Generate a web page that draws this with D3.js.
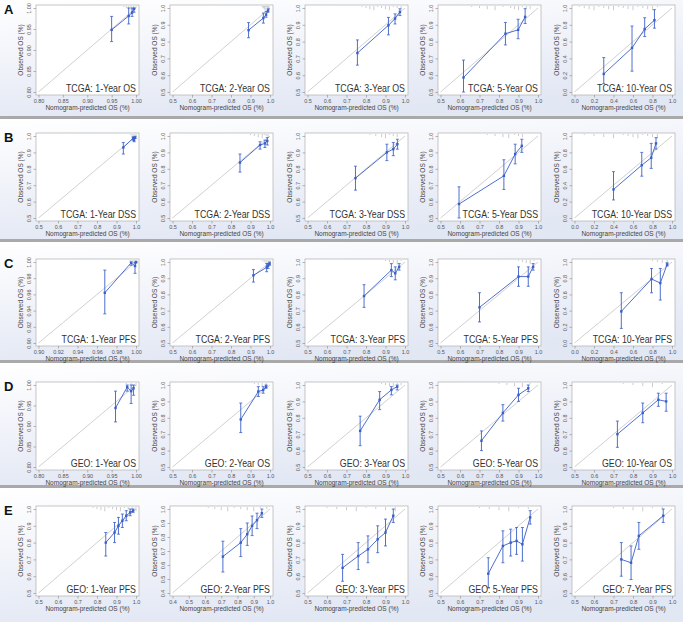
<!DOCTYPE html>
<html><head><meta charset="utf-8">
<script src="https://cdn.jsdelivr.net/npm/d3@7"></script>
<style>body{margin:0;background:#fff}svg{display:block;font-family:Arial,"Liberation Sans",sans-serif}</style>
</head><body><svg id="c" width="683" height="622"></svg>
<script>
const rowLabels = ["A","B","C","D","E"];
const titles = [
 "TCGA: 1-Year OS","TCGA: 2-Year OS","TCGA: 3-Year OS","TCGA: 5-Year OS","TCGA: 10-Year OS",
 "TCGA: 1-Year DSS","TCGA: 2-Year DSS","TCGA: 3-Year DSS","TCGA: 5-Year DSS","TCGA: 10-Year DSS",
 "TCGA: 1-Year PFS","TCGA: 2-Year PFS","TCGA: 3-Year PFS","TCGA: 5-Year PFS","TCGA: 10-Year PFS",
 "GEO: 1-Year OS","GEO: 2-Year OS","GEO: 3-Year OS","GEO: 5-Year OS","GEO: 10-Year OS",
 "GEO: 1-Year PFS","GEO: 2-Year PFS","GEO: 3-Year PFS","GEO: 5-Year PFS","GEO: 7-Year PFS"];
const ticksA = ["0.80","0.85","0.90","0.95","1.00"];
const ticksB = ["0.5","0.6","0.7","0.8","0.9","1.0"];
const ticksC = ["0.0","0.2","0.4","0.6","0.8","1.0"];
const ticksD = ["0.90","0.92","0.94","0.96","0.98","1.00"];
const ticksE = ["0.4","0.5","0.6","0.7","0.8","0.9","1.0"];
const panelTicks = [
 ticksA,ticksB,ticksB,ticksB,ticksC,
 ticksB,ticksB,ticksB,ticksB,ticksC,
 ticksD,ticksB,ticksB,ticksB,ticksC,
 ticksA,ticksB,ticksB,ticksB,ticksB,
 ticksB,ticksE,ticksB,ticksB,ticksB];
const pred = [
 [0.950,0.985,0.992,0.996],[0.890,0.966,0.980,0.990],[0.756,0.915,0.949,0.974],[0.618,0.833,0.898,0.934],[0.30,0.59,0.72,0.82],
 [0.935,0.985,0.990,0.995],[0.846,0.949,0.974,0.986],[0.746,0.907,0.940,0.961],[0.595,0.825,0.883,0.917],[0.40,0.69,0.787,0.836],
 [0.968,0.995,0.999,1.000],[0.915,0.983,0.990,0.998],[0.79,0.93,0.95,0.97],[0.70,0.90,0.95,0.975],[0.48,0.79,0.88,0.95],
 [0.958,0.982,0.990,0.995],[0.85,0.94,0.965,0.98],[0.77,0.87,0.93,0.96],[0.71,0.82,0.90,0.95],[0.72,0.85,0.93,0.97],
 [0.845,0.89,0.91,0.93,0.95,0.97,0.985],[0.71,0.82,0.86,0.89,0.92,0.95],[0.68,0.76,0.81,0.86,0.90,0.94],[0.745,0.82,0.86,0.89,0.92,0.96],[0.74,0.79,0.83,0.955]];
const obs = [
 [0.948,0.981,0.989,0.998],[0.868,0.940,0.960,0.985],[0.732,0.897,0.937,0.976],[0.586,0.847,0.870,0.947],[0.215,0.525,0.75,0.855],
 [0.930,0.986,0.975,0.990],[0.838,0.945,0.955,0.970],[0.743,0.900,0.920,0.950],[0.585,0.757,0.890,0.940],[0.348,0.644,0.735,0.910],
 [0.962,0.999,0.995,1.000],[0.918,0.967,0.977,0.990],[0.79,0.95,0.93,0.97],[0.72,0.91,0.91,0.97],[0.39,0.79,0.74,0.97],
 [0.944,0.995,0.985,0.992],[0.79,0.96,0.97,0.99],[0.72,0.91,0.97,0.99],[0.66,0.83,0.94,0.98],[0.70,0.83,0.91,0.90],
 [0.80,0.86,0.90,0.93,0.96,0.98,0.99],[0.66,0.76,0.82,0.88,0.92,0.97],[0.65,0.72,0.76,0.82,0.86,0.96],[0.615,0.78,0.80,0.81,0.79,0.95],[0.70,0.68,0.84,0.96]];
const lo = [
 [0.920,0.962,0.980,0.990],[0.823,0.910,0.945,0.975],[0.660,0.840,0.905,0.955],[0.500,0.780,0.817,0.908],[0.10,0.248,0.66,0.76],
 [0.890,0.975,0.965,0.985],[0.780,0.920,0.930,0.945],[0.670,0.850,0.880,0.920],[0.500,0.674,0.830,0.900],[0.220,0.510,0.605,0.840],
 [0.936,0.996,0.986,0.999],[0.876,0.940,0.960,0.980],[0.72,0.91,0.89,0.95],[0.63,0.85,0.85,0.95],[0.18,0.62,0.53,0.95],
 [0.91,0.985,0.955,0.975],[0.71,0.93,0.95,0.98],[0.63,0.85,0.94,0.97],[0.60,0.78,0.90,0.96],[0.62,0.77,0.87,0.84],
 [0.72,0.80,0.85,0.89,0.93,0.96,0.98],[0.55,0.66,0.74,0.81,0.86,0.94],[0.57,0.64,0.68,0.74,0.78,0.92],[0.53,0.68,0.72,0.73,0.69,0.91],[0.60,0.58,0.76,0.92]];
const hi = [
 [0.980,1.000,1.000,1.000],[0.913,0.970,0.980,0.995],[0.810,0.944,0.965,0.995],[0.690,0.914,0.933,0.996],[0.41,0.785,0.884,0.98],
 [0.960,0.995,0.990,0.998],[0.890,0.965,0.975,0.990],[0.816,0.950,0.960,0.980],[0.690,0.855,0.950,0.980],[0.565,0.800,0.910,0.980],
 [0.990,1.000,0.999,1.000],[0.953,0.990,0.990,1.000],[0.86,0.99,0.97,0.99],[0.81,0.97,0.97,0.99],[0.62,0.92,0.92,0.99],
 [0.985,1.000,1.000,1.000],[0.89,0.99,0.99,1.000],[0.81,0.96,0.99,1.000],[0.72,0.88,0.98,1.000],[0.78,0.89,0.95,0.95],
 [0.86,0.92,0.95,0.97,0.99,1.00,1.00],[0.77,0.86,0.90,0.95,0.97,1.00],[0.73,0.80,0.84,0.90,0.94,1.00],[0.71,0.87,0.88,0.89,0.89,0.99],[0.80,0.78,0.92,1.00]];
const rug = [
 [0.975,0.98,0.985,0.99,0.995,1.0],[0.96,0.965,0.97,0.975,0.98,0.985,0.99,0.995],[0.78,0.8,0.82,0.84,0.86,0.88,0.9,0.92,0.94,0.96,0.98],[0.66,0.7,0.74,0.78,0.82,0.86,0.88,0.9,0.92,0.94,0.96],[0.05,0.1,0.15,0.2,0.25,0.3,0.35,0.4,0.45,0.5,0.55,0.6,0.65,0.7,0.75,0.8,0.85],
 [0.97,0.98,0.99,1.0],[0.9,0.92,0.94,0.96,0.97,0.98,0.99],[0.82,0.85,0.88,0.9,0.92,0.94,0.96],[0.74,0.78,0.82,0.85,0.88,0.9,0.92],[0.1,0.2,0.3,0.4,0.5,0.55,0.6,0.65,0.7,0.75,0.8,0.85],
 [0.994,0.996,0.998,1.0],[0.96,0.97,0.98,0.99,1.0],[0.9,0.92,0.94,0.96,0.98],[0.9,0.92,0.94,0.96,0.98],[0.8,0.85,0.9,0.95],
 [0.98,0.99,1.0],[0.92,0.94,0.96,0.98],[0.88,0.9,0.92,0.94,0.96,0.98],[0.8,0.84,0.88,0.92,0.96],[0.75,0.8,0.85,0.9,0.95],
 [0.78,0.8,0.82,0.84,0.86,0.88,0.9,0.92,0.94,0.96,0.98,1.0],[0.62,0.66,0.7,0.74,0.78,0.82,0.86,0.9,0.94,0.98],[0.6,0.65,0.7,0.75,0.8,0.85,0.9,0.95],[0.7,0.75,0.8,0.85,0.9,0.95],[0.7,0.75,0.8,0.85,0.9,0.95]];

const svg = d3.select("#c");
const W = 683, H = 622;
const colX = [36, 170, 305, 438, 572], pw = 103;
const rowY = [5, 133, 259, 382, 506], rowH = [90, 88, 87, 88, 90];
const rowBand = [[0,116],[119,239],[242,360],[363,485],[488,622]];
const seps = [[116,119],[239,242],[360,363],[485,488]];
const blue = "#3a5fc8";

const defs = svg.append("defs");
const g = defs.append("linearGradient").attr("id","bg").attr("x1",0).attr("y1",0).attr("x2",0.35).attr("y2",1);
g.append("stop").attr("offset","0%").attr("stop-color","#ffffff");
g.append("stop").attr("offset","100%").attr("stop-color","#e2e7f4");

rowBand.forEach(([a,b]) => svg.append("rect").attr("x",0).attr("y",a).attr("width",W).attr("height",b-a).attr("fill","url(#bg)"));
seps.forEach(([a,b]) =>
  svg.append("rect").attr("x",0).attr("y",a).attr("width",W).attr("height",b-a).attr("fill","#a9a9a9"));

rowLabels.forEach((L,i) => svg.append("text").attr("x",4).attr("y",rowY[i]+9).attr("font-size",13)
  .attr("font-weight","bold").attr("fill","#111").text(L));

titles.forEach((t, k) => {
  const r = Math.floor(k/5), c = k%5;
  const x0 = colX[c], y0 = rowY[r], ph = rowH[r];
  const tk = panelTicks[k].map(Number);
  const dom = [tk[0], tk[tk.length-1]];
  const x = d3.scaleLinear().domain(dom).range([x0+2.5, x0+pw-3]);
  const y = d3.scaleLinear().domain(dom).range([y0+ph-3, y0+3]);
  const p = svg.append("g");
  p.append("rect").attr("x",x0).attr("y",y0).attr("width",pw).attr("height",ph).attr("fill","#fff").attr("stroke","#b8b8b8").attr("stroke-width",0.8);
  const xa = p.append("g").attr("transform",`translate(0,${y0+ph})`)
    .call(d3.axisBottom(x).tickValues(tk).tickFormat((d,i)=>panelTicks[k][i]).tickSize(2.5).tickPadding(1.5));
  const ya = p.append("g").attr("transform",`translate(${x0},0)`)
    .call(d3.axisLeft(y).tickValues(tk).tickFormat((d,i)=>panelTicks[k][i]).tickSize(2.5).tickPadding(1.5));
  [xa,ya].forEach(a => { a.select(".domain").remove(); a.selectAll("line").attr("stroke","#888").attr("stroke-width",0.6);
    a.selectAll("text").attr("font-size",5.5).attr("fill","#555").attr("font-family","Arial,sans-serif"); });
  ya.selectAll(".tick text").attr("transform","rotate(-90)").attr("text-anchor","middle").attr("x",0).attr("dy",0)
    .attr("y",-5);
  p.append("text").attr("x",x0+pw/2).attr("y",y0+ph+15).attr("text-anchor","middle").attr("font-size",6.5).attr("fill","#444")
    .text("Nomogram-predicted OS (%)");
  p.append("text").attr("transform",`translate(${x0-13},${y0+ph/2}) rotate(-90)`).attr("text-anchor","middle")
    .attr("font-size",6.5).attr("fill","#444").text("Observed OS (%)");
  p.append("line").attr("x1",x(dom[0])).attr("y1",y(dom[0])).attr("x2",x(dom[1])).attr("y2",y(dom[1]))
    .attr("stroke","#c4c4c4").attr("stroke-width",0.8);
  p.selectAll(".rug").data(rug[k]).join("line").attr("x1",d=>x(d)).attr("x2",d=>x(d))
    .attr("y1",y0+1).attr("y2",(d,i)=>y0+2+ (i%4)*1.1).attr("stroke","#999").attr("stroke-width",0.5);
  const pts = pred[k].map((v,i)=>({px:v, oy:obs[k][i], l:lo[k][i], h:hi[k][i]}));
  p.append("path").datum(pts).attr("fill","none").attr("stroke",blue).attr("stroke-width",0.9)
    .attr("d", d3.line().x(d=>x(d.px)).y(d=>y(d.oy)));
  pts.forEach(d => {
    p.append("line").attr("x1",x(d.px)).attr("x2",x(d.px)).attr("y1",y(d.l)).attr("y2",y(d.h)).attr("stroke",blue).attr("stroke-width",0.9);
    [d.l,d.h].forEach(v => p.append("line").attr("x1",x(d.px)-1.5).attr("x2",x(d.px)+1.5).attr("y1",y(v)).attr("y2",y(v)).attr("stroke",blue).attr("stroke-width",0.8));
    p.append("rect").attr("x",x(d.px)-1.2).attr("y",y(d.oy)-1.2).attr("width",2.4).attr("height",2.4).attr("fill",blue);
  });
  p.append("text").attr("transform",`translate(${x0+pw-3},${y0+ph-3}) scale(0.8,1)`).attr("text-anchor","end")
    .attr("font-size",11).attr("fill","#333").text(t);
});
</script></body></html>
